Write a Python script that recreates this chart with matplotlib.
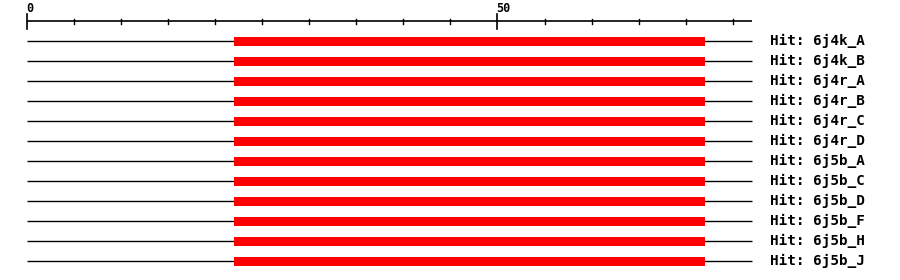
import matplotlib
matplotlib.use("Agg")
import matplotlib.pyplot as plt

# Data
hits = ["6j4k_A", "6j4k_B", "6j4r_A", "6j4r_B", "6j4r_C", "6j4r_D",
        "6j5b_A", "6j5b_C", "6j5b_D", "6j5b_F", "6j5b_H", "6j5b_J"]
query_length = 77
hit_start = [22] * len(hits)
hit_end = [72] * len(hits)
tick_step = 5
label_ticks = [0, 50]

W, H = 900, 280
fig = plt.figure(figsize=(W / 100, H / 100), dpi=100)
x0_px, x1_px = 26.7, 751.7
ax = fig.add_axes([x0_px / W, 0, (x1_px - x0_px) / W, 1])
ax.set_xlim(0, query_length)
row0_px, row_step_px = 41.3, 20.0
ax.set_ylim((H - row0_px) / row_step_px, -row0_px / row_step_px)
ax.axis("off")

def px(dy):
    return dy / row_step_px

mono = "DejaVu Sans Mono"

# Scale axis at top
axis_y = -1.0
ax.plot([0, query_length], [axis_y, axis_y], color="black", lw=1.2,
        solid_capstyle="butt", clip_on=False)
for t in range(0, query_length, tick_step):
    if t in label_ticks:
        ax.plot([t, t], [axis_y - px(7), axis_y + px(7.5)], color="black",
                lw=1.2, clip_on=False)
        ax.text(t - 0.1, axis_y - px(9.3), str(t), fontsize=8.5, family=mono,
                weight="bold", ha="left", va="baseline", clip_on=False)
    else:
        ax.plot([t, t], [axis_y - px(2.5), axis_y + px(2.5)], color="black",
                lw=1.0, clip_on=False)

# Hit rows
for i, (name, s, e) in enumerate(zip(hits, hit_start, hit_end)):
    ax.plot([0, query_length], [i, i], color="black", lw=1.0,
            solid_capstyle="butt", clip_on=False)
    ax.barh(i, e - s, left=s, height=px(9), color="#ff0000", zorder=3)
    ax.text(78.9, i, "Hit: " + name, fontsize=10.3, family=mono,
            weight="bold", ha="left", va="center", clip_on=False)

fig.savefig("out.png", dpi=100)
